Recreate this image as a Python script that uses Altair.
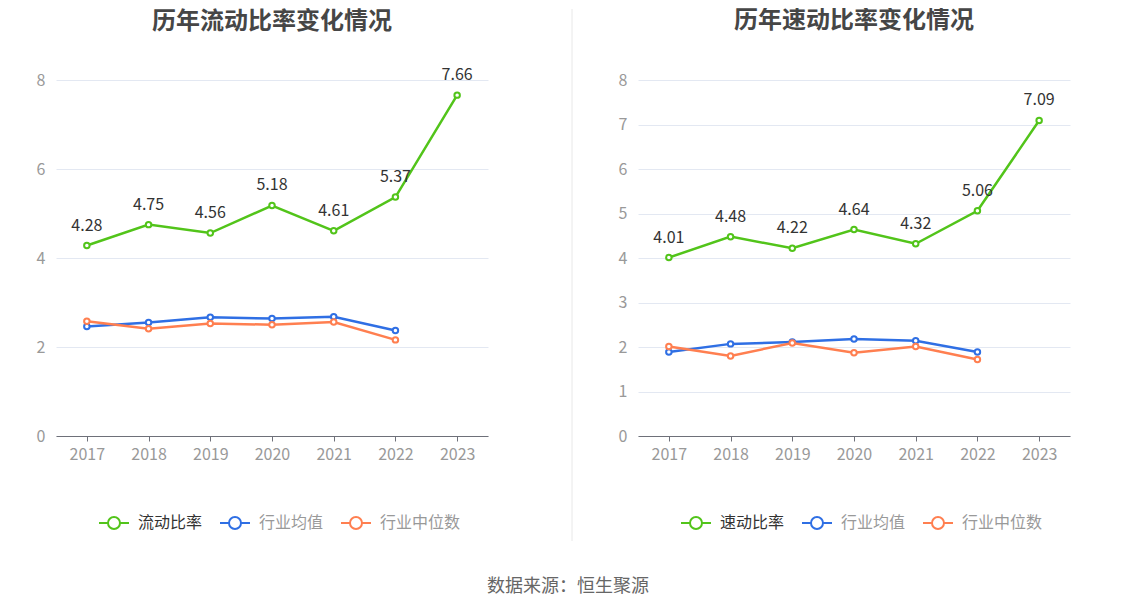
import altair as alt
import pandas as pd

years = ['2017', '2018', '2019', '2020', '2021', '2022', '2023']
cur_ratio = [4.28, 4.75, 4.56, 5.18, 4.61, 5.37, 7.66]
cur_avg = [2.46, 2.55, 2.67, 2.64, 2.68, 2.37]
cur_med = [2.58, 2.41, 2.53, 2.50, 2.56, 2.16]
quick_ratio = [4.01, 4.48, 4.22, 4.64, 4.32, 5.06, 7.09]
quick_avg = [1.89, 2.07, 2.11, 2.18, 2.14, 1.89]
quick_med = [2.01, 1.80, 2.09, 1.87, 2.01, 1.72]

GREEN = '#52c41a'
BLUE = '#2f6fe4'
ORANGE = '#ff7f50'
FONT = 'Noto Sans CJK SC'

LEGEND_PATH = ("M-1,0H-0.4M0.4,0H1M0.4,0A0.4,0.4,0,1,1,-0.4,0"
               "A0.4,0.4,0,1,1,0.4,0Z")


def panel(title, main_name, main_vals, avg_vals, med_vals, ticks, title_offset):
    rows = []
    for y, v in zip(years, main_vals):
        rows.append({'year': y, 'value': v, 'series': main_name, 'label': f'{v:.2f}'})
    for y, v in zip(years, avg_vals):
        rows.append({'year': y, 'value': v, 'series': '行业均值', 'label': ''})
    for y, v in zip(years, med_vals):
        rows.append({'year': y, 'value': v, 'series': '行业中位数', 'label': ''})
    df = pd.DataFrame(rows)
    domain = [main_name, '行业均值', '行业中位数']

    x = alt.X('year:O', scale=alt.Scale(type='point', padding=0.5, domain=years),
              axis=alt.Axis(title=None, labelAngle=0, domainColor='#6e7079',
                            tickColor='#6e7079', tickSize=5, labelColor='#999999',
                            labelFontSize=16, labelPadding=5, grid=False))
    y = alt.Y('value:Q', scale=alt.Scale(domain=[0, 8], nice=False),
              axis=alt.Axis(title=None, values=ticks, grid=True, gridColor='#e3e8f2',
                            domain=False, ticks=False, labelColor='#999999',
                            labelFontSize=16, labelPadding=11))
    legend = alt.Legend(
        orient='none', legendX=42, legendY=427, direction='horizontal', title=None,
        symbolType=LEGEND_PATH, symbolSize=900, symbolStrokeWidth=2,
        symbolFillColor='white', labelFontSize=16, labelOffset=8, columnPadding=13,
        labelColor=alt.ExprRef(f"datum.value === '{main_name}' ? '#333333' : '#999999'"),
        symbolOpacity=alt.ExprRef(f"datum.value === '{main_name}' ? 1 : 0.55"),
    )
    color = alt.Color('series:N', scale=alt.Scale(domain=domain, range=[GREEN, BLUE, ORANGE]),
                      sort=domain, legend=legend)
    color2 = alt.Color('series:N', scale=alt.Scale(domain=domain, range=[GREEN, BLUE, ORANGE]),
                       sort=domain)

    base = alt.Chart(df)
    lines = base.mark_line(strokeWidth=2.5).encode(x=x, y=y, color=color,
                                                   detail='series:N')
    points = base.mark_point(filled=False, fill='white', size=30, strokeWidth=2,
                             opacity=1, shape='circle').encode(x=x, y=y, color=color2)
    labels = base.transform_filter(alt.datum.series == main_name).mark_text(
        dy=-20, fontSize=16, color='#333333', font=FONT).encode(x=x, y=y, text='label:N')
    return alt.layer(lines, points, labels).properties(
        width=432, height=356,
        title=alt.TitleParams(title, fontSize=24, fontWeight='bold', color='#464646',
                              anchor='middle', baseline='bottom', offset=title_offset,
                              font=FONT))


left = panel('历年流动比率变化情况', '流动比率', cur_ratio, cur_avg, cur_med,
             [0, 2, 4, 6, 8], 9)
right = panel('历年速动比率变化情况', '速动比率', quick_ratio, quick_avg, quick_med,
              [0, 1, 2, 3, 4, 5, 6, 7, 8], 15)

divider = alt.Chart(pd.DataFrame({'a': [0]})).mark_rule(color='#e8e8e8', strokeWidth=1).encode(
    x=alt.value(9.5), y=alt.value(-71), y2=alt.value(461)
).properties(width=1, height=356)

chart = alt.hconcat(left, divider, right, spacing=74.5, bounds='flush').resolve_scale(
    color='independent'
).properties(
    title=alt.TitleParams('数据来源：恒生聚源', orient='bottom', anchor='middle', fontSize=18,
                          color='#666666', fontWeight='normal', offset=36, baseline='top',
                          dx=15, font=FONT),
    padding={'left': 28, 'top': 0, 'right': 5, 'bottom': 5},
).configure(font=FONT).configure_view(strokeWidth=0, stroke='transparent')

chart.save('out.html', embed_options={'renderer': 'svg', 'actions': False})
